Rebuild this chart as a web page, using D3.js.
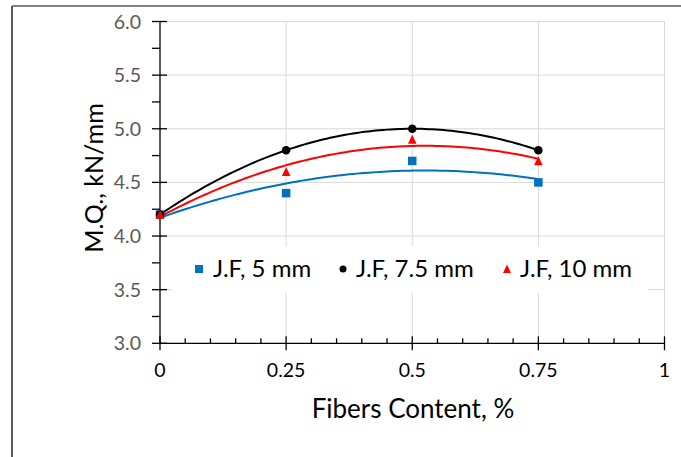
<!DOCTYPE html>
<html><head><meta charset="utf-8">
<script src="https://cdn.jsdelivr.net/npm/d3@7"></script>
<style>body{margin:0;background:#fff}svg{display:block}text{font-family:Lato,"Open Sans",sans-serif}</style>
</head><body><svg id="c" width="681" height="457"></svg>
<script>
const fibers = [0, 0.25, 0.5, 0.75];
const jf5 = [4.2, 4.4, 4.7, 4.5];
const jf75 = [4.2, 4.8, 5.0, 4.8];
const jf10 = [4.2, 4.6, 4.9, 4.7];
const seriesNames = ["J.F, 5 mm", "J.F, 7.5 mm", "J.F, 10 mm"];
const xTicks = [0, 0.25, 0.5, 0.75, 1];
const yTicks = [3.0, 3.5, 4.0, 4.5, 5.0, 5.5, 6.0];

const series = [
  {name: seriesNames[0], vals: jf5, color: "#0070C0", shape: "square"},
  {name: seriesNames[1], vals: jf75, color: "#000000", shape: "circle"},
  {name: seriesNames[2], vals: jf10, color: "#FF0000", shape: "triangle"}
];

const svg = d3.select("#c");
const x = d3.scaleLinear().domain([0, 1]).range([160, 664.5]);
const y = d3.scaleLinear().domain([3, 6]).range([343.3, 21.5]);

// outer frame
svg.append("line").attr("x1", 12).attr("x2", 681).attr("y1", 6).attr("y2", 6).attr("stroke", "#595959").attr("stroke-width", 1.5);
svg.append("line").attr("x1", 12).attr("x2", 12).attr("y1", 6).attr("y2", 457).attr("stroke", "#595959").attr("stroke-width", 2);

// gridlines
svg.append("g").selectAll("line").data(yTicks.filter(d => d > 3)).join("line")
  .attr("x1", x(0)).attr("x2", x(1)).attr("y1", d => y(d)).attr("y2", d => y(d))
  .attr("stroke", "#d9d9d9").attr("stroke-width", 1);
svg.append("g").selectAll("line").data(xTicks.filter(d => d > 0)).join("line")
  .attr("x1", d => x(d)).attr("x2", d => x(d)).attr("y1", y(6)).attr("y2", y(3))
  .attr("stroke", "#d9d9d9").attr("stroke-width", 1);

// least-squares quadratic fit
function quadFit(xs, ys) {
  const n = xs.length;
  let s = [0,0,0,0,0], t = [0,0,0];
  for (let i = 0; i < n; i++) {
    for (let k = 0; k < 5; k++) s[k] += Math.pow(xs[i], k);
    for (let k = 0; k < 3; k++) t[k] += ys[i] * Math.pow(xs[i], k);
  }
  const A = [[s[0],s[1],s[2],t[0]],[s[1],s[2],s[3],t[1]],[s[2],s[3],s[4],t[2]]];
  for (let c = 0; c < 3; c++) {
    for (let r = c + 1; r < 3; r++) {
      const f = A[r][c] / A[c][c];
      for (let k = c; k < 4; k++) A[r][k] -= f * A[c][k];
    }
  }
  const b = [0,0,0];
  for (let r = 2; r >= 0; r--) {
    let v = A[r][3];
    for (let k = r + 1; k < 3; k++) v -= A[r][k] * b[k];
    b[r] = v / A[r][r];
  }
  return xv => b[0] + b[1]*xv + b[2]*xv*xv;
}

// legend background
const legendG = svg.append("g");
legendG.append("rect").attr("x", 172).attr("y", 246).attr("width", 476).attr("height", 47).attr("fill", "#fff");

// trendlines
const line = d3.line().x(d => x(d[0])).y(d => y(d[1]));
series.forEach(s => {
  const f = quadFit(fibers, s.vals);
  const pts = d3.range(0, 0.7501, 0.0075).map(v => [v, f(v)]);
  svg.append("path").attr("d", line(pts)).attr("fill", "none").attr("stroke", s.color).attr("stroke-width", 2);
});

// axes
const ax = svg.append("g").attr("stroke", "#000").attr("stroke-width", 1.3);
ax.append("line").attr("x1", x(0)).attr("x2", x(0)).attr("y1", y(6)).attr("y2", y(3));
ax.append("line").attr("x1", x(0)).attr("x2", x(1)).attr("y1", y(3)).attr("y2", y(3));
ax.selectAll(".ym").data(yTicks).join("line").attr("x1", x(0) - 8).attr("x2", x(0) + 7).attr("y1", d => y(d)).attr("y2", d => y(d));
ax.selectAll(".yn").data(d3.range(3.25, 6, 0.5)).join("line").attr("x1", x(0) - 8).attr("x2", x(0)).attr("y1", d => y(d)).attr("y2", d => y(d));
ax.selectAll(".xm").data(xTicks).join("line").attr("x1", d => x(d)).attr("x2", d => x(d)).attr("y1", y(3) - 7).attr("y2", y(3) + 7);
ax.selectAll(".xn").data(d3.range(0.05, 1, 0.05).filter(v => Math.abs(v * 4 - Math.round(v * 4)) > 1e-6)).join("line")
  .attr("x1", d => x(d)).attr("x2", d => x(d)).attr("y1", y(3) - 5).attr("y2", y(3));

// tick labels
svg.append("g").selectAll("text").data(yTicks).join("text")
  .attr("x", 141).attr("y", d => y(d) + 7).attr("text-anchor", "end")
  .attr("font-size", 19.5).attr("fill", "#595959").text(d => d.toFixed(1));
svg.append("g").selectAll("text").data(xTicks).join("text")
  .attr("x", d => x(d)).attr("y", 377).attr("text-anchor", "middle")
  .attr("font-size", 19.5).attr("fill", "#000").text(d => String(d));

// axis titles
svg.append("text").attr("x", 413).attr("y", 418).attr("text-anchor", "middle").attr("font-size", 26).attr("fill", "#000").text("Fibers Content, %");
svg.append("text").attr("transform", "translate(103,178) rotate(-90)").attr("text-anchor", "middle").attr("font-size", 25).attr("fill", "#000").text("M.Q., kN/mm");

// markers
function drawMarker(g, shape, cx, cy, color, size) {
  if (shape === "square") g.append("rect").attr("x", cx - size/2).attr("y", cy - size/2).attr("width", size).attr("height", size).attr("fill", color);
  else if (shape === "circle") g.append("circle").attr("cx", cx).attr("cy", cy).attr("r", size/2).attr("fill", color);
  else g.append("path").attr("d", `M${cx},${cy - size/2 - 0.5}L${cx + size/2},${cy + size/2}L${cx - size/2},${cy + size/2}Z`).attr("fill", color);
}
const mg = svg.append("g");
series.forEach(s => {
  s.vals.forEach((v, i) => drawMarker(mg, s.shape, x(fibers[i]), y(v), s.color, 8.5));
});

// legend
const legX = [199, 343, 507];
const legTX = [213, 356, 520];
series.forEach((s, i) => {
  drawMarker(legendG, s.shape, legX[i], 269, s.color, s.shape === "circle" ? 7 : 8);
  legendG.append("text").attr("x", legTX[i]).attr("y", 276.5).attr("font-size", 24).attr("fill", "#000").text(s.name);
});
</script></body></html>
